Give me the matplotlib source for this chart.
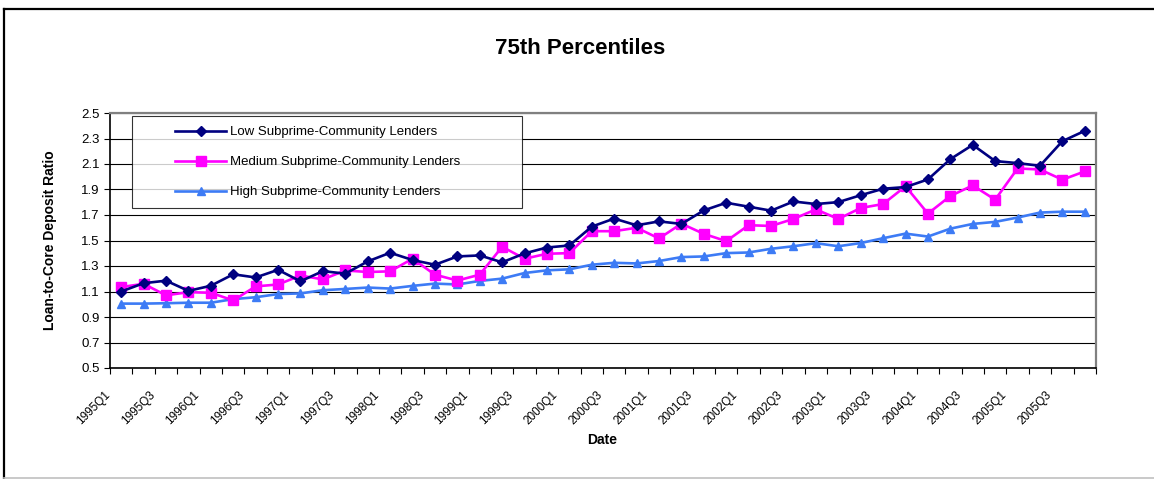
import matplotlib
matplotlib.use('Agg')
import matplotlib.pyplot as plt
import matplotlib.transforms as mtrans
from matplotlib.lines import Line2D
from matplotlib.legend_handler import HandlerLine2D

plt.rcParams['font.family'] = ['Liberation Sans', 'DejaVu Sans']

# quarters 1995Q1 .. 2005Q4
quarters = [f'{y}Q{q}' for y in range(1995, 2006) for q in range(1, 5)]

low = [1.10, 1.165, 1.185, 1.105, 1.145, 1.235, 1.21, 1.27, 1.18, 1.26, 1.24,
       1.336, 1.404, 1.347, 1.31, 1.375, 1.383, 1.329, 1.399, 1.445, 1.461, 1.609, 1.672,
       1.619, 1.65, 1.63, 1.736, 1.796, 1.765, 1.734, 1.806, 1.786, 1.801, 1.855,
       1.906, 1.919, 1.979, 2.138, 2.25, 2.123, 2.107, 2.086, 2.279, 2.36]
medium = [1.135, 1.16, 1.07, 1.095, 1.09, 1.03, 1.14, 1.155, 1.225, 1.195, 1.265,
          1.253, 1.258, 1.357, 1.232, 1.186, 1.232, 1.451, 1.357, 1.396, 1.401, 1.573, 1.573,
          1.60, 1.516, 1.632, 1.552, 1.495, 1.62, 1.614, 1.669, 1.744, 1.669, 1.755,
          1.786, 1.925, 1.711, 1.849, 1.932, 1.82, 2.065, 2.057, 1.977, 2.042]
high = [1.005, 1.005, 1.008, 1.012, 1.012, 1.04, 1.055, 1.08, 1.085, 1.11, 1.12,
        1.131, 1.123, 1.144, 1.162, 1.155, 1.183, 1.201, 1.245, 1.266, 1.274, 1.31, 1.325,
        1.32, 1.339, 1.37, 1.375, 1.401, 1.406, 1.435, 1.455, 1.479, 1.455, 1.48,
        1.518, 1.554, 1.531, 1.593, 1.63, 1.646, 1.68, 1.719, 1.726, 1.726]

labels = ['Low Subprime-Community Lenders',
          'Medium Subprime-Community Lenders',
          'High Subprime-Community Lenders']

W, H = 1154, 479
fig = plt.figure(figsize=(W / 100, H / 100), dpi=100)
ax = fig.add_axes([110 / W, 1 - 368 / H, 986 / W, 255 / H])

x = list(range(len(quarters)))
ax.plot(x, low, '-D', color='#000080', lw=1.9, ms=5, label=labels[0], zorder=4)
ax.plot(x, medium, '-s', color='#FF00FF', lw=1.9, ms=6.5, label=labels[1], zorder=3)
ax.plot(x, high, '-^', color='#3D7BF5', lw=1.9, ms=6, label=labels[2], zorder=2)

ax.set_xlim(-0.5, len(quarters) - 0.5)
ax.set_ylim(0.5, 2.5)
ax.set_yticks([0.5 + 0.2 * i for i in range(11)])
ax.set_yticklabels([f'{0.5 + 0.2 * i:.1f}' for i in range(11)], fontsize=9.5)
ax.yaxis.grid(True, color='black', lw=0.8)
ax.set_axisbelow(True)

# tick marks on category boundaries, labels drawn by hand for every other quarter
ax.set_xticks([i - 0.5 for i in range(len(quarters) + 1)])
ax.set_xticklabels([])
lab_tr = ax.get_xaxis_transform() + mtrans.ScaledTranslation(-0.13, -0.25, fig.dpi_scale_trans)
for i in x[::2]:
    ax.text(i, 0, quarters[i], transform=lab_tr, rotation=45, ha='right', va='center',
            rotation_mode='anchor', fontsize=8.5)
ax.tick_params(axis='x', length=4, width=0.8, direction='out')
ax.tick_params(axis='y', length=4.5, width=0.8, direction='out', pad=3)

for s in ['top', 'right']:
    ax.spines[s].set_color('#808080')
    ax.spines[s].set_linewidth(1.6)
for s in ['left', 'bottom']:
    ax.spines[s].set_color('black')
    ax.spines[s].set_linewidth(1.2)

ax.set_ylabel('Loan-to-Core Deposit Ratio', fontsize=10, fontweight='bold', labelpad=17)
fig.text(602 / W, 1 - 440 / H, 'Date', fontsize=10, fontweight='bold', ha='center', va='center')
fig.text(580 / W, 1 - 48 / H, '75th Percentiles', fontsize=16, fontweight='bold',
         ha='center', va='center')

hmap = {l: HandlerLine2D(xpad=2.5) for l in ax.get_lines()}
leg = ax.legend(loc='upper left', bbox_to_anchor=(22 / 986, 1 - 3 / 255, 390 / 986, 0),
                mode='expand', fontsize=9.5, frameon=True, fancybox=False,
                edgecolor='black', handlelength=6.4, labelspacing=1.35,
                borderpad=0.75, handletextpad=0.25, borderaxespad=0, handler_map=hmap)
leg.get_frame().set_linewidth(0.8)

# outer chart frame
fig.add_artist(Line2D([4 / W, 4 / W], [1 - 478 / H, 1 - 9 / H], color='black', lw=1.6,
                      transform=fig.transFigure))
fig.add_artist(Line2D([4 / W, 1], [1 - 9 / H, 1 - 9 / H], color='black', lw=1.6,
                      transform=fig.transFigure))
fig.add_artist(Line2D([4 / W, 1], [1 - 478 / H, 1 - 478 / H], color='#c0c0c0', lw=1.2,
                      transform=fig.transFigure))

fig.savefig('out.png', dpi=100)
